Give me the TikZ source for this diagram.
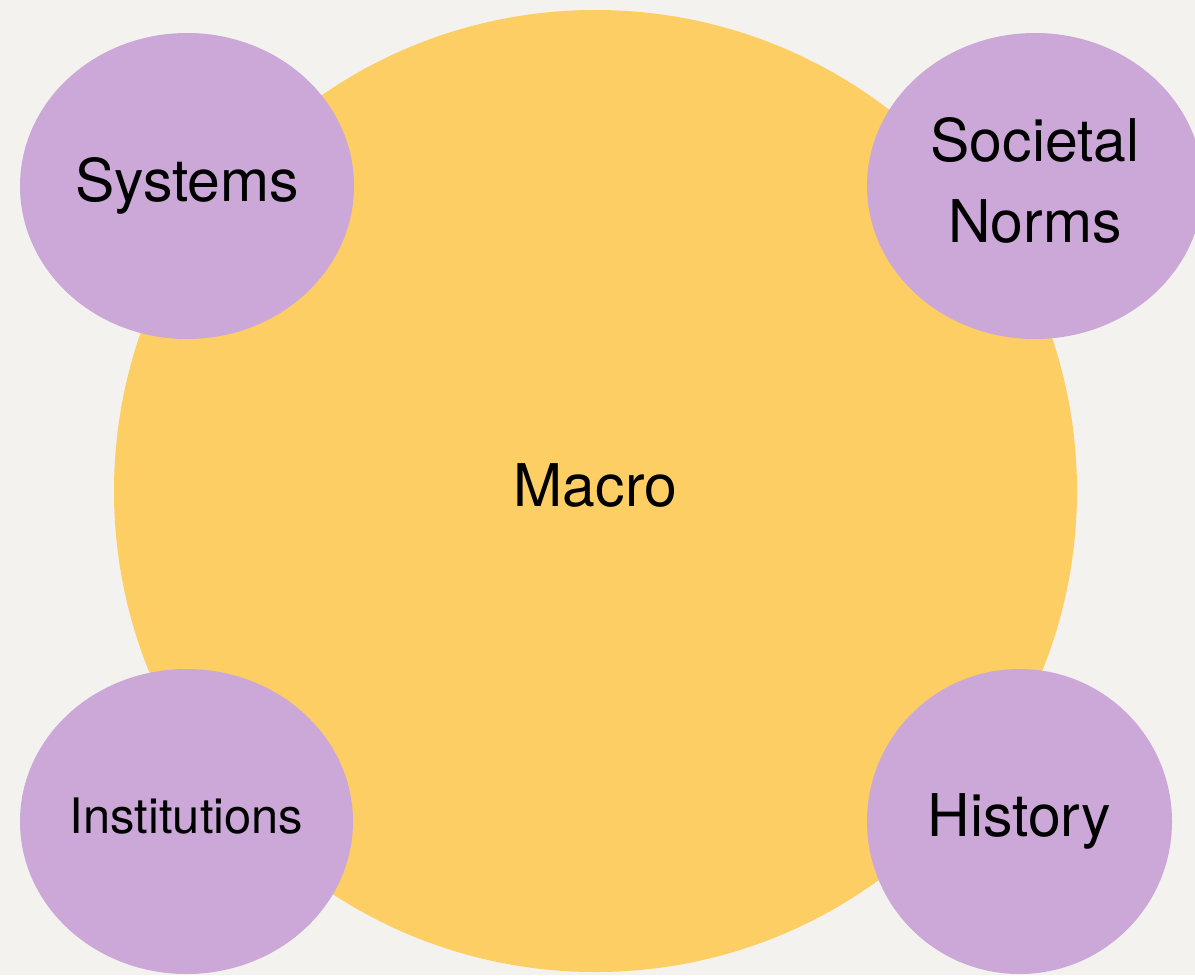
\documentclass[tikz,border=0pt]{standalone}
\usepackage{fontspec}
\setmainfont{TeX Gyre Heros}
\usetikzlibrary{shapes.geometric}

\definecolor{paper}{HTML}{F3F2EE}
\definecolor{macroyellow}{HTML}{FCCE63}
\definecolor{factorpurple}{HTML}{CBA8D7}

\def\bigfont{\fontsize{33.5}{46.5}\selectfont}
\def\smallfont{\fontsize{27.8}{33}\selectfont}

\begin{document}
\begin{tikzpicture}
				\tikzstyle{macro}=[ellipse,fill=macroyellow,inner sep=0pt,minimum width=19.26cm,minimum height=19.24cm,font=\bigfont,text height=24.1pt,text depth=7pt]
			    \tikzstyle{factor}=[ellipse,fill=factorpurple,inner sep=0pt,font=\bigfont]
			    \tikzstyle{oneline}=[text height=24.1pt,text depth=7pt]
			    \tikzstyle{smallline}=[font=\smallfont,text height=20pt,text depth=5.8pt]

			    % Page
			    \fill[paper] (0,0) rectangle (23.9,-19.5);
			    \useasboundingbox (0,0) rectangle (23.9,-19.5);

			    % Big circle in the middle
			    \node[macro] (macro) at (11.91,-9.82) {Macro};

			    % The four factors round it
			    \node[factor,oneline,minimum width=6.68cm,minimum height=6.12cm] (systems) at (3.74,-3.72) {Systems};
			    \node[factor,align=center,text depth=6.8pt,minimum width=6.72cm,minimum height=6.12cm] (norms) at (20.70,-3.72) {Societal\\Norms};
			    \node[factor,smallline,minimum width=6.66cm,minimum height=6.10cm] (institutions) at (3.73,-16.43) {Institutions};
			    \node[factor,oneline,minimum width=6.10cm,minimum height=6.10cm] (history) at (20.39,-16.43) {History};

			\end{tikzpicture}
\end{document}
